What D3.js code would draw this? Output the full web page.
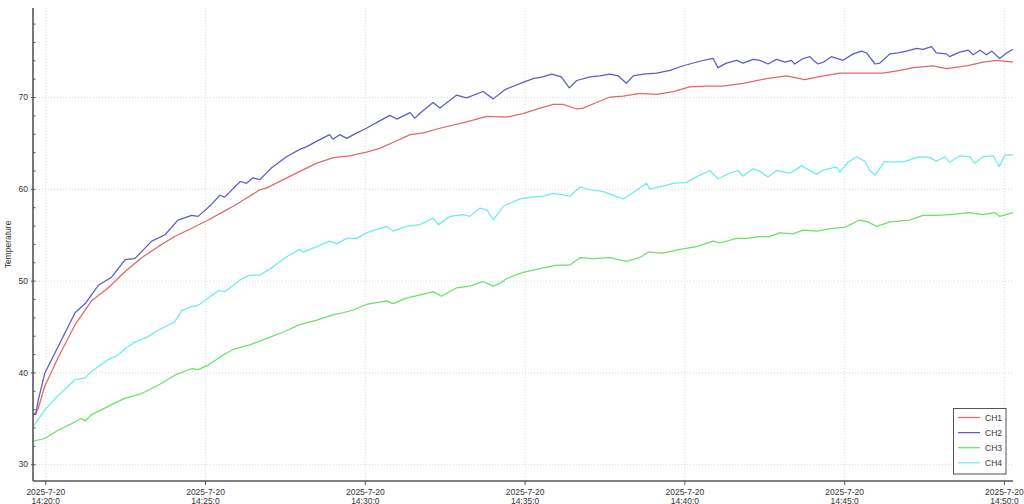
<!DOCTYPE html>
<html>
<head>
<meta charset="utf-8">
<script src="https://cdnjs.cloudflare.com/ajax/libs/d3/7.8.5/d3.min.js"></script>
<style>
  body { margin: 0; background: #fff; }
  svg { display: block; font-family: "Liberation Sans", Arial, sans-serif; }
</style>
</head>
<body>
<svg id="grafica"></svg>
<script>
// readings: [seconds after 14:20:00, temperature]
const ch1 = [[-23,35.5],[-18,35.5],[-13,36.1],[-1,38.5],[24,41.6],[56,45.2],[87,47.8],[118,49.2],[150,51.0],[181,52.5],[212,53.7],[243,54.8],[275,55.7],[306,56.6],[337,57.6],[353,58.1],[403,59.9],[416,60.1],[447,61.0],[478,61.9],[510,62.8],[541,63.4],[572,63.6],[603,64.0],[628,64.4],[666,65.4],[685,65.9],[710,66.1],[741,66.6],[791,67.3],[829,67.9],[866,67.8],[897,68.2],[929,68.8],[954,69.2],[972,69.2],[998,68.7],[1010,68.8],[1035,69.4],[1060,70.0],[1085,70.1],[1116,70.4],[1148,70.3],[1179,70.6],[1210,71.1],[1242,71.2],[1273,71.2],[1310,71.5],[1354,72.0],[1392,72.3],[1426,71.9],[1461,72.3],[1492,72.6],[1529,72.6],[1573,72.6],[1605,72.9],[1630,73.2],[1667,73.4],[1692,73.1],[1730,73.4],[1761,73.8],[1786,74.0],[1817,73.8]];

const ch2 = [[-23,35.5],[-18,35.4],[-13,37.0],[-1,39.9],[24,42.8],[56,46.5],[75,47.5],[100,49.5],[125,50.4],[150,52.3],[168,52.4],[200,54.3],[225,55.0],[249,56.6],[275,57.1],[287,57.0],[312,58.3],[328,59.3],[337,59.1],[366,60.8],[378,60.6],[390,61.2],[403,61.0],[425,62.3],[453,63.5],[478,64.3],[491,64.6],[510,65.2],[534,65.9],[540,65.4],[553,65.9],[566,65.5],[585,66.1],[603,66.6],[628,67.4],[647,68.0],[660,67.6],[685,68.3],[694,67.7],[703,68.2],[728,69.4],[741,68.8],[772,70.2],[791,69.9],[822,70.6],[841,69.8],[863,70.8],[897,71.6],[916,72.0],[934,72.2],[951,72.5],[969,72.2],[984,71.0],[998,71.8],[1023,72.2],[1041,72.3],[1060,72.5],[1076,72.3],[1091,71.5],[1104,72.3],[1123,72.5],[1148,72.6],[1173,72.9],[1192,73.3],[1210,73.6],[1229,73.9],[1254,74.2],[1263,73.2],[1279,73.7],[1298,74.0],[1310,73.7],[1329,74.1],[1342,74.0],[1357,73.6],[1373,74.1],[1389,73.8],[1401,74.0],[1407,73.6],[1423,74.2],[1436,74.4],[1442,74.0],[1451,73.6],[1461,73.8],[1476,74.4],[1498,74.0],[1517,74.7],[1533,75.0],[1542,74.8],[1558,73.6],[1567,73.7],[1586,74.7],[1601,74.8],[1617,75.0],[1636,75.3],[1648,75.2],[1664,75.5],[1673,74.8],[1692,74.7],[1698,74.4],[1717,74.9],[1733,75.1],[1742,74.6],[1755,75.1],[1767,74.6],[1777,75.0],[1792,74.2],[1805,74.8],[1817,75.2]];

const ch3 = [[-23,32.5],[-1,32.8],[24,33.7],[56,34.6],[68,35.0],[75,34.7],[87,35.4],[118,36.3],[150,37.2],[181,37.7],[212,38.6],[243,39.7],[275,40.4],[287,40.3],[306,40.8],[337,42.0],[353,42.5],[384,43.0],[416,43.7],[447,44.4],[478,45.2],[510,45.7],[541,46.3],[559,46.5],[578,46.8],[603,47.4],[641,47.8],[653,47.5],[678,48.1],[716,48.6],[728,48.8],[744,48.3],[772,49.2],[797,49.4],[822,49.9],[841,49.4],[854,49.7],[866,50.2],[897,50.9],[929,51.3],[960,51.7],[985,51.7],[1004,52.5],[1029,52.4],[1060,52.5],[1091,52.1],[1116,52.5],[1132,53.1],[1160,53.0],[1192,53.4],[1223,53.7],[1254,54.3],[1267,54.1],[1298,54.6],[1317,54.6],[1338,54.8],[1360,54.8],[1379,55.2],[1404,55.1],[1423,55.5],[1448,55.4],[1479,55.7],[1501,55.8],[1529,56.6],[1545,56.4],[1561,55.9],[1586,56.4],[1623,56.6],[1648,57.1],[1673,57.1],[1698,57.2],[1736,57.4],[1761,57.2],[1783,57.4],[1792,57.0],[1817,57.4]];

const ch4 = [[-23,34.1],[-1,35.9],[24,37.5],[56,39.2],[75,39.4],[87,40.1],[118,41.4],[137,41.9],[150,42.6],[168,43.3],[193,43.9],[212,44.6],[243,45.5],[256,46.7],[275,47.2],[287,47.3],[306,48.1],[325,48.9],[337,48.8],[366,50.1],[384,50.6],[403,50.6],[428,51.5],[453,52.6],[478,53.4],[484,53.1],[510,53.7],[534,54.3],[547,54.0],[566,54.6],[585,54.6],[603,55.2],[641,55.9],[653,55.4],[678,55.9],[703,56.1],[728,56.8],[738,56.1],[760,57.0],[785,57.2],[797,57.0],[816,57.9],[829,57.7],[841,56.6],[860,58.1],[891,58.9],[916,59.1],[935,59.2],[954,59.5],[966,59.4],[985,59.2],[1004,60.2],[1023,59.9],[1048,59.7],[1070,59.2],[1085,58.9],[1104,59.6],[1129,60.6],[1135,60.0],[1160,60.3],[1179,60.6],[1204,60.7],[1229,61.5],[1248,62.0],[1263,61.1],[1285,61.7],[1301,62.0],[1310,61.4],[1329,62.2],[1342,61.9],[1357,61.3],[1373,62.0],[1398,61.7],[1420,62.5],[1432,62.1],[1448,61.6],[1464,62.1],[1486,62.4],[1492,61.8],[1507,62.9],[1523,63.5],[1539,63.0],[1548,62.0],[1558,61.5],[1576,63.0],[1592,62.9],[1614,63.0],[1642,63.5],[1661,63.4],[1673,63.0],[1689,63.5],[1698,62.9],[1717,63.6],[1736,63.5],[1745,62.8],[1761,63.5],[1780,63.6],[1791,62.4],[1802,63.7],[1817,63.7]];

const seriesNames = ["CH1", "CH2", "CH3", "CH4"];
const yMajorTicks = [30, 40, 50, 60, 70];
const yMinorTicks = [30, 32, 34, 36, 38, 40, 42, 44, 46, 48, 50, 52, 54, 56, 58, 60, 62, 64, 66, 68, 70, 72, 74, 76, 78];
const xTickMinutes = [20, 25, 30, 35, 40, 45, 50];
const yTitle = "Temperature";

function toDate(sec) {
  return new Date(2025, 6, 20, 14, 20, 0, sec * 1000);
}

function drawChart() {
  const width = 1024, height = 504;
  const margin = { top: 8, right: 11, bottom: 23, left: 33 };
  const colors = ["#e06868", "#5c5cc8", "#6ce06c", "#6cecec"];
  const all = [ch1, ch2, ch3, ch4];

  const svg = d3.select("#grafica")
    .attr("width", width)
    .attr("height", height);

  const x = d3.scaleTime()
    .domain([toDate(-23), toDate(1817)])
    .range([margin.left, width - margin.right]);

  const y = d3.scaleLinear()
    .domain([28.17, 79.7])
    .range([height - margin.bottom, margin.top]);

  const xTicks = xTickMinutes.map(m => new Date(2025, 6, 20, 14, m, 0));

  // dotted grid
  svg.append("g")
    .selectAll("line")
    .data(yMajorTicks)
    .enter()
    .append("line")
    .attr("x1", margin.left)
    .attr("x2", width - margin.right)
    .attr("y1", d => y(d) + 0.5)
    .attr("y2", d => y(d) + 0.5)
    .attr("stroke", "#dadada")
    .attr("stroke-dasharray", "1,2");

  svg.append("g")
    .selectAll("line")
    .data(xTicks)
    .enter()
    .append("line")
    .attr("x1", d => x(d) + 0.5)
    .attr("x2", d => x(d) + 0.5)
    .attr("y1", margin.top)
    .attr("y2", height - margin.bottom)
    .attr("stroke", "#dadada")
    .attr("stroke-dasharray", "1,2");

  // lines
  const line = d3.line()
    .x(d => x(toDate(d[0])))
    .y(d => y(d[1]));

  svg.append("g")
    .selectAll("path")
    .data(all)
    .enter()
    .append("path")
    .attr("fill", "none")
    .attr("stroke", (d, i) => colors[i])
    .attr("stroke-width", 1.25)
    .attr("stroke-linejoin", "round")
    .attr("d", line);

  // y axis
  const yAxis = svg.append("g")
    .attr("transform", "translate(" + margin.left + ",0)")
    .call(d3.axisLeft(y).tickValues(yMajorTicks).tickSize(2).tickPadding(3).tickFormat(d3.format("d")));
  yAxis.select(".domain")
    .attr("d", "M0," + margin.top + "V" + (height - margin.bottom))
    .attr("stroke", "#555")
    .attr("stroke-width", 1.6);
  yAxis.selectAll(".tick line").attr("stroke", "#555");
  yAxis.selectAll("text").attr("font-size", 8.5).attr("fill", "#333");

  const yMinor = svg.append("g")
    .attr("transform", "translate(" + margin.left + ",0)")
    .call(d3.axisRight(y).tickValues(yMinorTicks).tickSize(2.5).tickFormat(""));
  yMinor.select(".domain").remove();
  yMinor.selectAll(".tick line").attr("stroke", "#555");

  // x axis
  const fmtDay = d => d.getFullYear() + "-" + (d.getMonth() + 1) + "-" + d.getDate();
  const fmtTime = d => d.getHours() + ":" + d.getMinutes() + ":" + d.getSeconds();

  const xAxis = svg.append("g")
    .attr("transform", "translate(0," + (height - margin.bottom) + ")")
    .call(d3.axisBottom(x).tickValues(xTicks).tickSize(4).tickFormat(""));
  xAxis.select(".domain")
    .attr("d", "M" + margin.left + ",0H" + (width - margin.right))
    .attr("stroke", "#555")
    .attr("stroke-width", 1.3);
  xAxis.selectAll(".tick line").attr("stroke", "#555");

  const lbl = xAxis.selectAll(".tick")
    .append("text")
    .attr("fill", "#333")
    .attr("font-size", 8.5)
    .attr("text-anchor", "middle");
  lbl.append("tspan").attr("x", 0).attr("y", 14).text(d => fmtDay(d));
  lbl.append("tspan").attr("x", 0).attr("y", 22.5).text(d => fmtTime(d));

  svg.append("text")
    .attr("transform", "translate(11," + ((margin.top + height - margin.bottom) / 2) + ") rotate(-90)")
    .attr("text-anchor", "middle")
    .attr("font-size", 8.5)
    .attr("fill", "#333")
    .text(yTitle);

  // legend
  const lg = svg.append("g").attr("transform", "translate(953.5,408.5)");
  lg.append("rect")
    .attr("width", 52.5)
    .attr("height", 65.5)
    .attr("fill", "#fff")
    .attr("stroke", "#555");
  const item = lg.selectAll(".item")
    .data(seriesNames)
    .enter()
    .append("g")
    .attr("class", "item")
    .attr("transform", (d, i) => "translate(0," + (9 + i * 15.1) + ")");
  item.append("line")
    .attr("x1", 4.5)
    .attr("x2", 26.5)
    .attr("stroke", (d, i) => colors[i])
    .attr("stroke-width", 1.25);
  item.append("text")
    .attr("x", 31.5)
    .attr("y", 3)
    .attr("font-size", 8.5)
    .attr("fill", "#333")
    .text(d => d);
}

drawChart();
</script>
</body>
</html>
